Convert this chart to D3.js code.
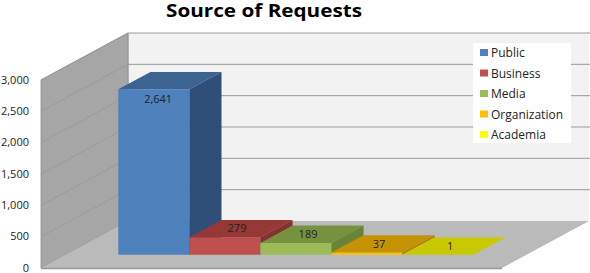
<!DOCTYPE html>
<html>
<head>
<meta charset="utf-8">
<script src="https://cdn.jsdelivr.net/npm/d3@7"></script>
<style>
  body { margin: 0; background: #fff; }
  text { font-family: "Open Sans", sans-serif; }
</style>
</head>
<body>
<svg id="chart" width="590" height="273"></svg>
<script>
// chart data
const categories = ["Public", "Business", "Media", "Organization", "Academia"];
const requests = [2641, 279, 189, 37, 1];
const labels = ["2,641", "279", "189", "37", "1"];
const yTicks = [0, 500, 1000, 1500, 2000, 2500, 3000];

// colours: front, top, side
const colors = [
  ["#4f81bd", "#3c6391", "#2f4f78"],
  ["#c0504d", "#953836", "#833230"],
  ["#9bbb59", "#77923f", "#6a8437"],
  ["#ffc000", "#c59200", "#b08300"],
  ["#ffff00", "#c9c900", "#b3b300"]
];

const svg = d3.select("#chart");

// 3D frame: front-left corner of floor and depth offset
const ox = 41, oy = 268, depthX = 87, depthY = 47, floorW = 461;

const x = d3.scaleBand()
    .domain(categories)
    .range([0, floorW])
    .paddingInner(0)
    .paddingOuter(0.745);

const y = d3.scaleLinear()
    .domain([0, 3000])
    .range([0, 188]);

// project floor x, value, depth z (0 front .. 1 back)
function p(xx, v, z) {
  return [ox + xx + z * depthX, oy - y(v) - z * depthY];
}
function poly(pts) {
  return pts.map(d => d.join(",")).join(" ");
}

// title
svg.append("text")
    .attr("x", 264)
    .attr("y", 17)
    .attr("text-anchor", "middle")
    .attr("textLength", 196)
    .attr("lengthAdjust", "spacingAndGlyphs")
    .style("font-size", "17px")
    .style("font-weight", "bold")
    .text("Source of Requests");

// back wall
svg.append("polygon")
    .attr("points", poly([p(0, 0, 1), p(0, 3000, 1), p(floorW, 3000, 1), p(floorW, 0, 1)]))
    .attr("fill", "#f2f2f2");

// left wall
svg.append("polygon")
    .attr("points", poly([p(0, 0, 0), p(0, 3000, 0), p(0, 3000, 1), p(0, 0, 1)]))
    .attr("fill", "#a6a6a6")
    .attr("stroke", "#8c8c8c")
    .attr("stroke-width", 0.8);

// gridlines on walls
yTicks.forEach(t => {
  svg.append("polyline")
      .attr("points", poly([p(0, t, 0), p(0, t, 1), p(floorW + 10, t, 1)]))
      .attr("fill", "none")
      .attr("stroke", t === 0 ? "none" : "#9a9a9a")
      .attr("stroke-width", 1);
});
svg.append("line")
    .attr("x1", p(0, 0, 1)[0]).attr("y1", p(0, 0, 1)[1])
    .attr("x2", p(0, 3000, 1)[0]).attr("y2", p(0, 3000, 1)[1])
    .attr("stroke", "#9a9a9a");

// floor
svg.append("polygon")
    .attr("points", poly([p(0, 0, 0), p(floorW, 0, 0), p(floorW, 0, 1), p(0, 0, 1)]))
    .attr("fill", "#bababa");
svg.append("line")
    .attr("x1", ox).attr("y1", oy + 0.5)
    .attr("x2", ox + floorW).attr("y2", oy + 0.5)
    .attr("stroke", "#999").attr("stroke-width", 1.5);

// y axis labels
svg.selectAll(".ylab")
    .data(yTicks)
    .enter().append("text")
    .attr("class", "ylab")
    .attr("x", 29)
    .attr("y", d => oy - y(d) + 3.5)
    .attr("text-anchor", "end")
    .style("font-size", "11px")
    .style("fill", "#222")
    .text(d => d3.format(",")(d));

// bars
const z0 = 0.28, z1 = 0.65;
const bars = svg.selectAll(".bar")
    .data(categories)
    .enter().append("g")
    .attr("class", "bar");

bars.each(function(c, i) {
  const g = d3.select(this);
  const v = requests[i];
  const x0 = x(c), x1 = x(c) + x.bandwidth();
  g.append("polygon")
      .attr("points", poly([p(x0, 0, z0), p(x0, v, z0), p(x1, v, z0), p(x1, 0, z0)]))
      .attr("fill", colors[i][0]);
  g.append("polygon")
      .attr("points", poly([p(x0, v, z0), p(x0, v, z1), p(x1, v, z1), p(x1, v, z0)]))
      .attr("fill", colors[i][1]);
  g.append("polygon")
      .attr("points", poly([p(x1, 0, z0), p(x1, v, z0), p(x1, v, z1), p(x1, 0, z1)]))
      .attr("fill", colors[i][2]);
});

// data labels
svg.selectAll(".dlab")
    .data(categories)
    .enter().append("text")
    .attr("class", "dlab")
    .attr("x", (c, i) => {
      const big = y(requests[i]) > 30;
      return p(x(c) + x.bandwidth() / 2, 0, big ? z0 + 0.05 : 0.42)[0];
    })
    .attr("y", (c, i) => {
      const top = p(0, requests[i], z0)[1];
      return y(requests[i]) > 30 ? top + 14 : top - 5;
    })
    .attr("text-anchor", "middle")
    .style("font-size", "11px")
    .style("fill", "#222")
    .text((c, i) => labels[i]);

// legend
const legend = svg.append("g").attr("transform", "translate(473,43)");
legend.append("rect")
    .attr("width", 98).attr("height", 100)
    .attr("fill", "#fff");
categories.forEach((c, i) => {
  legend.append("rect")
      .attr("x", 7).attr("y", 6 + i * 20.5)
      .attr("width", 8).attr("height", 7)
      .attr("fill", colors[i][0]);
  legend.append("text")
      .attr("x", 18).attr("y", 14 + i * 20.5)
      .style("font-size", "12px")
      .style("fill", "#222")
      .text(c);
});
</script>
</body>
</html>
